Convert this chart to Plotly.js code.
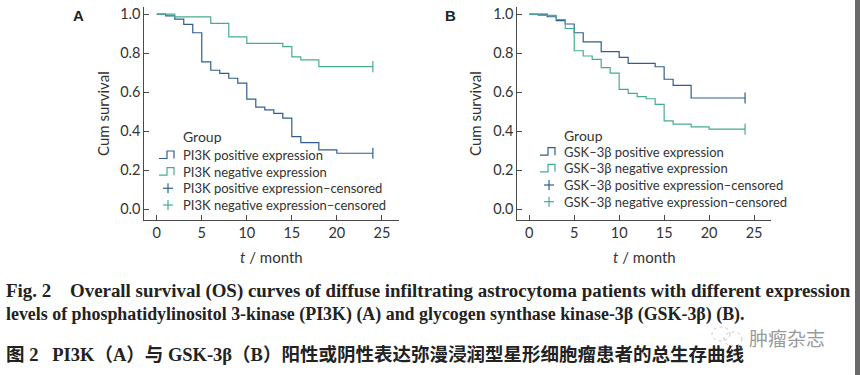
<!DOCTYPE html>
<html>
<head>
<meta charset="utf-8">
<script src="https://cdn.plot.ly/plotly-3.0.1.min.js"></script>
<style>
html,body{margin:0;padding:0;background:#fff;}
#chart{width:860px;height:375px;}
</style>
</head>
<body>
<div id="chart"></div>
<script>
// ---- Data ----
const monthTicks = [0, 5, 10, 15, 20, 25];
const survTicks = [0.0, 0.2, 0.4, 0.6, 0.8, 1.0];
const survTickLabels = ["0.0", "0.2", "0.4", "0.6", "0.8", "1.0"];

const pi3kPosT = [0, 1, 2, 3, 4, 5, 6, 7, 8, 9, 10, 11, 12, 13, 14, 15, 16, 18, 20, 24];
const pi3kPosS = [1.0, 0.991, 0.974, 0.947, 0.904, 0.755, 0.712, 0.696, 0.671, 0.646, 0.564, 0.523, 0.509, 0.491, 0.467, 0.372, 0.341, 0.304, 0.287, 0.287];
const pi3kNegT = [0, 2, 6, 8, 10, 14, 15, 16, 18, 24];
const pi3kNegS = [1.0, 0.985, 0.952, 0.883, 0.850, 0.833, 0.781, 0.765, 0.731, 0.731];

const gskPosT = [0, 2, 3, 4, 5, 6, 8, 10, 11, 14, 15, 16, 18, 24];
const gskPosS = [1.0, 0.986, 0.966, 0.949, 0.904, 0.857, 0.807, 0.778, 0.747, 0.730, 0.666, 0.635, 0.570, 0.570];
const gskNegT = [0, 1, 3, 4, 5, 6, 7, 8, 9, 10, 11, 12, 13, 14, 15, 16, 18, 20, 24];
const gskNegS = [1.0, 0.993, 0.972, 0.926, 0.812, 0.785, 0.768, 0.725, 0.697, 0.614, 0.594, 0.577, 0.566, 0.537, 0.453, 0.436, 0.422, 0.410, 0.410];

const censorTime = 24;

const legendA = ["PI3K positive expression", "PI3K negative expression", "PI3K positive expression\u2013censored", "PI3K negative expression\u2013censored"];
const legendB = ["GSK\u20133\u03b2 positive expression", "GSK\u20133\u03b2 negative expression", "GSK\u20133\u03b2 positive expression\u2013censored", "GSK\u20133\u03b2 negative expression\u2013censored"];

const captionEn1 = "Fig. 2\u00a0\u00a0\u00a0\u00a0Overall survival (OS) curves of diffuse infiltrating astrocytoma patients with different expression";
const captionEn2 = "levels of phosphatidylinositol 3-kinase (PI3K) (A) and glycogen synthase kinase-3\u03b2 (GSK-3\u03b2) (B).";
const captionCn = "图 2\u00a0\u00a0\u00a0PI3K（A）与 GSK-3\u03b2（B）阳性或阴性表达弥漫浸润型星形细胞瘤患者的总生存曲线";
const watermark = "肿瘤杂志";

// ---- Styling ----
const W = 860, H = 375;
const BLUE = "#2f5e8e";
const GREEN = "#45ad90";
const TXT = "#333333";
const AX = "#4a4a4a";
const sans = "Lato, 'Open Sans', sans-serif";
const px = x => x / W;
const py = y => 1 - y / H;

function stepTrace(t, s, color, xa, ya) {
  return {x: t, y: s, type: "scatter", mode: "lines", line: {shape: "hv", color: color, width: 1.2},
          xaxis: xa, yaxis: ya, hoverinfo: "skip", showlegend: false};
}
function censorTrace(t, s, color, xa, ya) {
  return {x: [censorTime], y: [s[s.length - 1]], type: "scatter", mode: "markers",
          marker: {symbol: "line-ns-open", size: 8, color: color, line: {color: color, width: 1.2}},
          xaxis: xa, yaxis: ya, hoverinfo: "skip", showlegend: false};
}

const traces = [
  stepTrace(pi3kPosT, pi3kPosS, BLUE, "x", "y"),
  stepTrace(pi3kNegT, pi3kNegS, GREEN, "x", "y"),
  censorTrace(pi3kPosT, pi3kPosS, BLUE, "x", "y"),
  censorTrace(pi3kNegT, pi3kNegS, GREEN, "x", "y"),
  stepTrace(gskPosT, gskPosS, BLUE, "x2", "y2"),
  stepTrace(gskNegT, gskNegS, GREEN, "x2", "y2"),
  censorTrace(gskPosT, gskPosS, BLUE, "x2", "y2"),
  censorTrace(gskNegT, gskNegS, GREEN, "x2", "y2")
];

function xAxis(domain, range, anchor) {
  return {domain: domain, range: range, anchor: anchor, tickvals: monthTicks, ticktext: monthTicks.map(String),
          ticks: "inside", ticklen: 5, tickwidth: 1, tickcolor: AX, showline: true, linecolor: AX, linewidth: 1,
          showgrid: false, zeroline: false, tickfont: {family: sans, size: 14.5, color: TXT}, fixedrange: true};
}
function yAxis(domain, range, anchor) {
  return {domain: domain, range: range, anchor: anchor, tickvals: survTicks, ticktext: survTickLabels,
          ticks: "inside", ticklen: 5, tickwidth: 1, tickcolor: AX, showline: true, linecolor: AX, linewidth: 1,
          showgrid: false, zeroline: false, tickfont: {family: sans, size: 14.5, color: TXT}, fixedrange: true};
}

const yDom = [py(220), py(7)];
const layout = {
  width: W, height: H, margin: {l: 0, r: 0, t: 0, b: 0},
  paper_bgcolor: "#fff", plot_bgcolor: "#fff", showlegend: false,
  xaxis: xAxis([px(144.3), px(399)], [-1.38, 26.9], "y"),
  yaxis: yAxis(yDom, [-0.055, 1.036], "x"),
  xaxis2: xAxis([px(517.3), px(770.7)], [-1.33, 26.85], "y2"),
  yaxis2: yAxis(yDom, [-0.055, 1.036], "x2"),
  annotations: [],
  shapes: []
};

const A = layout.annotations, S = layout.shapes;
function txt(x, y, text, opts) {
  A.push(Object.assign({xref: "paper", yref: "paper", x: px(x), y: py(y), text: text, showarrow: false,
    xanchor: "left", yanchor: "middle", borderpad: 0, font: {family: sans, size: 13, color: TXT}}, opts || {}));
}
// panel letters
txt(78, 16, "<b>A</b>", {xanchor: "center", font: {family: "Liberation Sans, Arial", size: 15, color: "#222"}});
txt(450, 16, "<b>B</b>", {xanchor: "center", font: {family: "Liberation Sans, Arial", size: 15, color: "#222"}});
// axis titles
txt(103, 114, "Cum survival", {xanchor: "center", textangle: -90, font: {family: sans, size: 15, color: TXT}});
txt(475, 114, "Cum survival", {xanchor: "center", textangle: -90, font: {family: sans, size: 15, color: TXT}});
txt(271, 257, "<i>t</i> / month", {xanchor: "center", font: {family: sans, size: 15, color: TXT}});
txt(644, 257, "<i>t</i> / month", {xanchor: "center", font: {family: sans, size: 15, color: TXT}});

// custom legends
function legend(x0, yGroup, ys, labels) {
  txt(x0 + 24, yGroup, "Group", {font: {family: sans, size: 14, color: TXT}});
  const cols = [BLUE, GREEN, BLUE, GREEN];
  labels.forEach((lab, i) => {
    const y = ys[i];
    txt(x0 + 24, y, lab);
    if (i < 2) {
      const xa = x0 + 1, xb = x0 + 9, xc = x0 + 16, yt = y - 4, yb = y + 3.5;
      S.push({type: "path", xref: "paper", yref: "paper",
        path: `M${px(xa)},${py(yb)} L${px(xb)},${py(yb)} L${px(xb)},${py(yt)} L${px(xc)},${py(yt)} L${px(xc)},${py(yb)}`,
        line: {color: cols[i], width: 1.2}});
    } else {
      const cx = x0 + 10;
      S.push({type: "line", xref: "paper", yref: "paper", x0: px(cx - 5), x1: px(cx + 5), y0: py(y), y1: py(y), line: {color: cols[i], width: 1.2}});
      S.push({type: "line", xref: "paper", yref: "paper", x0: px(cx), x1: px(cx), y0: py(y - 5), y1: py(y + 5), line: {color: cols[i], width: 1.2}});
    }
  });
}
legend(158, 137, [155, 171.7, 188.3, 205], legendA);
legend(539, 135, [151.7, 168.3, 185, 201.7], legendB);

// captions
const serif = "'Liberation Serif', 'Times New Roman', serif";
txt(5, 291, "<b>" + captionEn1 + "</b>", {font: {family: serif, size: 18.9, color: "#222"}});
txt(5, 314, "<b>" + captionEn2 + "</b>", {font: {family: serif, size: 17.9, color: "#222"}});
txt(5, 354, "<b>" + captionCn + "</b>", {font: {family: "'Liberation Serif', 'Noto Sans CJK SC', serif", size: 18.5, color: "#222"}});
txt(748, 337, watermark, {font: {family: "'Noto Sans CJK SC', sans-serif", size: 19, color: "#9a9a9a"}});
// watermark icon (light circles)
S.push({type: "circle", xref: "paper", yref: "paper", x0: px(712), x1: px(730), y0: py(341), y1: py(327), line: {color: "#c8c8c8", width: 1, dash: "dot"}});
S.push({type: "circle", xref: "paper", yref: "paper", x0: px(724), x1: px(742), y0: py(346), y1: py(332), line: {color: "#c8c8c8", width: 1, dash: "dot"}});
// right edge border
S.push({type: "rect", xref: "paper", yref: "paper", x0: px(855), x1: px(860), y0: 0, y1: 1, line: {width: 0}, fillcolor: "#6a6a6a"});

Plotly.newPlot("chart", traces, layout, {staticPlot: true, displayModeBar: false});
</script>
</body>
</html>
